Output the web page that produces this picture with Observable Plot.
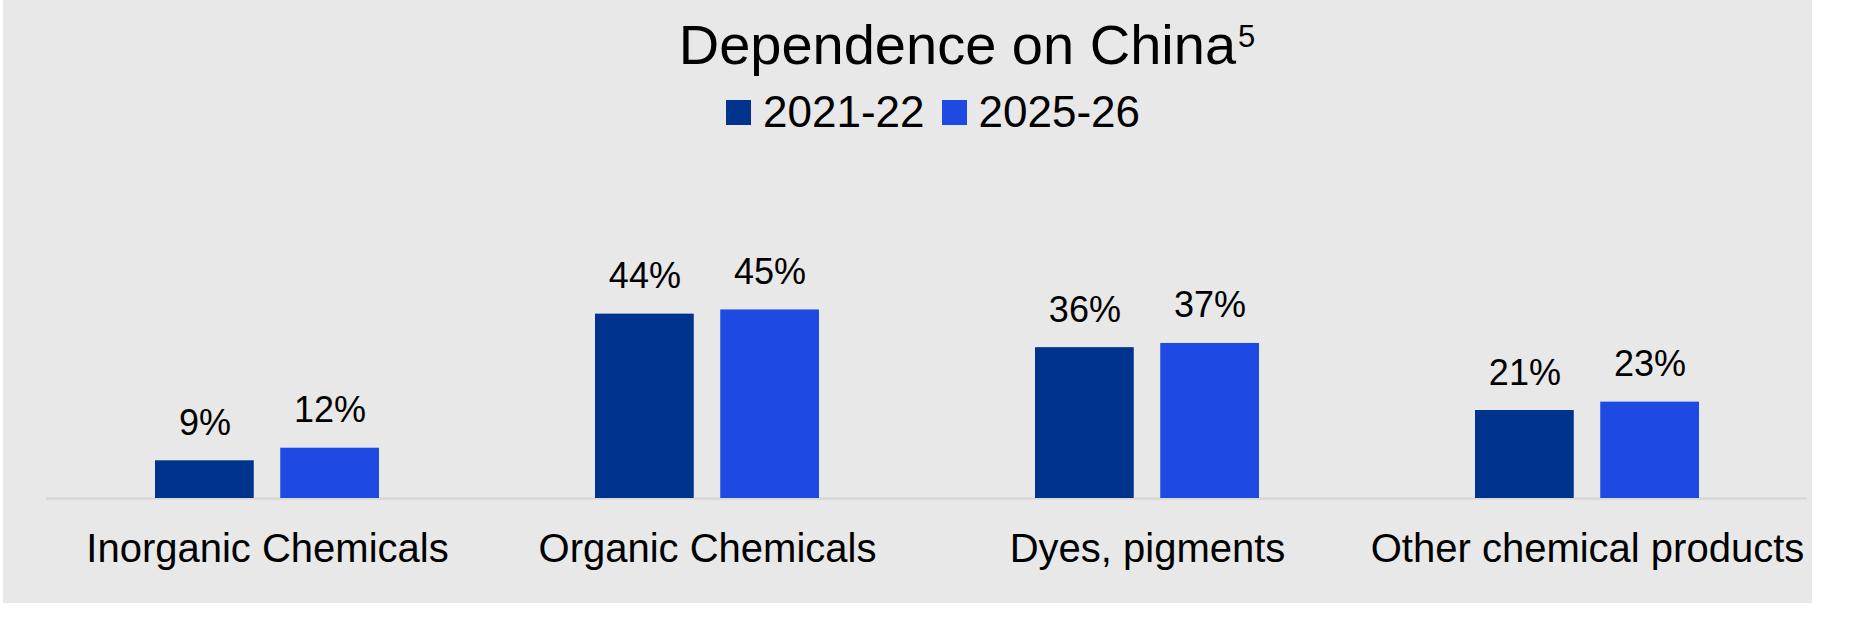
<!DOCTYPE html>
<html>
<head>
<meta charset="utf-8">
<script src="https://cdn.jsdelivr.net/npm/d3@7"></script>
<script src="https://cdn.jsdelivr.net/npm/@observablehq/plot@0.6"></script>
<style>
  html, body { margin: 0; padding: 0; background: #ffffff; overflow: hidden; }
  body { width: 1860px; height: 643px; position: relative; font-family: "Liberation Sans", Arial, sans-serif; color: #000; }
  #panel { position: absolute; left: 3px; top: 0; width: 1809px; height: 603px; background: #e8e8e8; }
  #header { position: relative; height: 150px; }
  #title { position: absolute; left: 467px; width: 1000px; top: 17px; text-align: center; font-size: 56px; line-height: 56px; white-space: nowrap; }
  #title sup { font-size: 31px; vertical-align: 17px; line-height: 0; margin-left: 2px; }
  #legend { position: absolute; left: 433px; width: 1000px; top: 90px; text-align: center; font-size: 44px; line-height: 44px; white-space: nowrap; }
  .sw { display: inline-block; width: 25px; height: 25px; vertical-align: 2px; margin-right: 12px; }
  .item { margin-right: 17px; }
  .item:last-child { margin-right: 0; }
  #chart { position: relative; }
</style>
</head>
<body>
<div id="panel"></div>
<div id="header">
  <div id="title">Dependence on China<sup>5</sup></div>
  <div id="legend"></div>
</div>
<div id="chart"></div>
<script>
const categories = ["Inorganic Chemicals", "Organic Chemicals", "Dyes, pigments", "Other chemical products"];
const seriesNames = ["2021-22", "2025-26"];
const values2021_22 = [9, 44, 36, 21];
const values2025_26 = [12, 45, 37, 23];
const seriesColors = ["#00338D", "#1E49E2"];

const rows = [];
categories.forEach((c, i) => {
  rows.push({category: c, series: seriesNames[0], value: values2021_22[i]});
  rows.push({category: c, series: seriesNames[1], value: values2025_26[i]});
});
const s1 = rows.filter(d => d.series === seriesNames[0]);
const s2 = rows.filter(d => d.series === seriesNames[1]);

// legend
const legend = document.getElementById("legend");
seriesNames.forEach((s, i) => {
  const span = document.createElement("span");
  span.className = "item";
  span.innerHTML = `<span class="sw" style="background:${seriesColors[i]}"></span>${s}`;
  legend.appendChild(span);
});

const plot = Plot.plot({
  width: 1860,
  height: 453,
  marginLeft: 46,
  marginRight: 53,
  marginTop: 96.6,
  marginBottom: 105,
  style: {background: "none", fontFamily: "'Liberation Sans', Arial, sans-serif", color: "#000"},
  x: {domain: categories, padding: 0, label: null},
  y: {domain: [0, 60], axis: null},
  color: {domain: seriesNames, range: seriesColors},
  marks: [
    Plot.ruleY([0], {stroke: "#d8d8d8", strokeWidth: 2.5}),
    Plot.barY(s1, {x: "category", y: "value", fill: "series", insetLeft: 108, insetRight: 233.25}),
    Plot.barY(s2, {x: "category", y: "value", fill: "series", insetLeft: 233.25, insetRight: 108}),
    Plot.text(s1, {x: "category", y: "value", text: d => d.value + "%", dx: -62.6, dy: -26, lineAnchor: "bottom", fontSize: 36, fill: "#000"}),
    Plot.text(s2, {x: "category", y: "value", text: d => d.value + "%", dx: 62.6, dy: -26, lineAnchor: "bottom", fontSize: 36, fill: "#000"}),
    Plot.axisX({tickSize: 0, tickPadding: 35.5, fontSize: 40, label: null, fill: "#000"})
  ]
});
document.getElementById("chart").appendChild(plot);
</script>
</body>
</html>
